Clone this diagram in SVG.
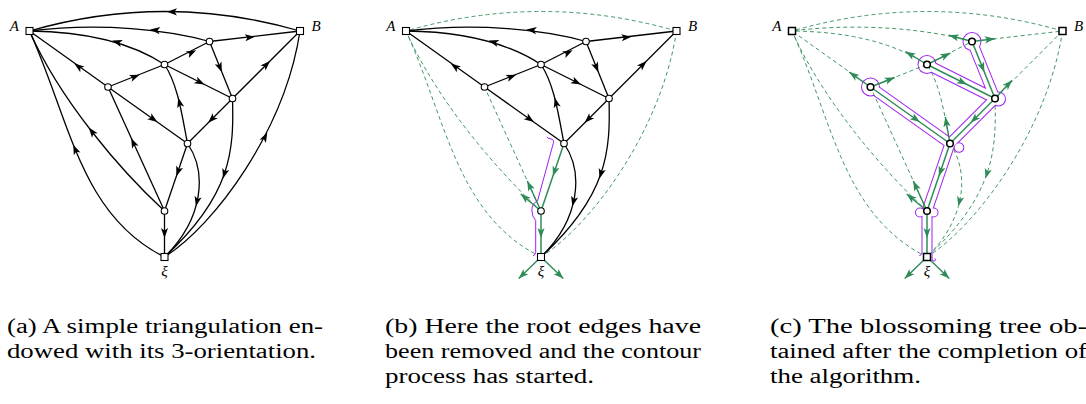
<svg xmlns="http://www.w3.org/2000/svg" xmlns:xlink="http://www.w3.org/1999/xlink" width="1086" height="404" viewBox="0 0 1086 404">
<style>
.k{fill:none;stroke:#000;stroke-width:1.3}
.g{fill:none;stroke:#2e8b57;stroke-width:1.5}
.d{fill:none;stroke:#2e8b57;stroke-width:0.9;stroke-dasharray:4 3}
.st{fill:none;stroke:#2e8b57;stroke-width:1.4;marker-end:url(#sm)}
.ak{fill:#000}
.ag{fill:#2e8b57}
.nd{fill:#fff;stroke:#000;stroke-width:1.1}
.nd2{fill:#fff;stroke:#000;stroke-width:1.5}
.pu{fill:none;stroke:#a020f0;stroke-width:1}
</style>
<defs>
<marker id="sm" markerUnits="userSpaceOnUse" viewBox="-6 -5 12 10" markerWidth="12" markerHeight="10" refX="5" refY="0" orient="auto"><path d="M5,0 L-5,-3.6 L-2.6,0 L-5,3.6 Z" fill="#2e8b57"/></marker>
<path id="ah" d="M5,0 L-5,-3.6 L-2.6,0 L-5,3.6 Z"/>
<path id="e1" d="M300,31 Q165,-8 29.5,31"/>
<path id="e2" d="M209.5,41.5 C170,30 100,22 29.5,31"/>
<path id="e3" d="M164.5,64.5 Q115,32 29.5,31"/>
<path id="e4" d="M209.5,41.5 L300,31"/>
<path id="e5" d="M164.5,64.5 L209.5,41.5"/>
<path id="e6" d="M108,87 L29.5,31"/>
<path id="e7" d="M108,87 L164.5,64.5"/>
<path id="e8" d="M164.5,64.5 L232.5,98.5"/>
<path id="e9" d="M209.5,41.5 L232.5,98.5"/>
<path id="e10" d="M232.5,98.5 L300,31"/>
<path id="e11" d="M108,87 L187.5,143.5"/>
<path id="e12" d="M232.5,98.5 L187.5,143.5"/>
<path id="e13" d="M187.5,143.5 C182,115 178,85 164.5,64.5"/>
<path id="e14" d="M187.5,143.5 L164.5,211"/>
<path id="e15" d="M187.5,143.5 C207,172 204,218 164.5,257"/>
<path id="e16" d="M232.5,98.5 C234,150 232,195 164.5,257"/>
<path id="e17" d="M164.5,211 L164.5,257"/>
<path id="e18" d="M164.5,211 L108,87"/>
<path id="e19" d="M164.5,211 C120,170 60,100 29.5,31"/>
<path id="e20" d="M164.5,257 C80,215 70,120 29.5,31"/>
<path id="e21" d="M164.5,257 C215,225 285,130 300,31"/>
<use id="r1" xlink:href="#ah" transform="translate(172,11.8) rotate(181)"/>
<use id="r2" xlink:href="#ah" transform="translate(155,30) rotate(187)"/>
<use id="r3" xlink:href="#ah" transform="translate(117,42) rotate(197)"/>
<use id="r4" xlink:href="#ah" transform="translate(250,37.2) rotate(-6.6)"/>
<use id="r5" xlink:href="#ah" transform="translate(191.7,52.5) rotate(-27)"/>
<use id="r6" xlink:href="#ah" transform="translate(78.3,66.5) rotate(215.5)"/>
<use id="r7" xlink:href="#ah" transform="translate(135,76.5) rotate(-21.7)"/>
<use id="r8" xlink:href="#ah" transform="translate(200,82.2) rotate(26.6)"/>
<use id="r9" xlink:href="#ah" transform="translate(220,67.5) rotate(68)"/>
<use id="r10" xlink:href="#ah" transform="translate(266.5,64.5) rotate(-45)"/>
<use id="r11" xlink:href="#ah" transform="translate(153.3,119.2) rotate(35.4)"/>
<use id="r12" xlink:href="#ah" transform="translate(211.7,119.3) rotate(135)"/>
<use id="r13" xlink:href="#ah" transform="translate(179.5,102.5) rotate(-104)"/>
<use id="r14" xlink:href="#ah" transform="translate(178,171.5) rotate(108.8)"/>
<use id="r15" xlink:href="#ah" transform="translate(197,201.5) rotate(103)"/>
<use id="r16" xlink:href="#ah" transform="translate(224.4,173.8) rotate(106)"/>
<use id="r17" xlink:href="#ah" transform="translate(164.5,233) rotate(90)"/>
<use id="r18" xlink:href="#ah" transform="translate(133.3,142.7) rotate(245.5)"/>
<use id="r19" xlink:href="#ah" transform="translate(91.8,131.5) rotate(232)"/>
<use id="r20" xlink:href="#ah" transform="translate(75.2,149.3) rotate(247)"/>
<use id="r21" xlink:href="#ah" transform="translate(265,137) rotate(-63)"/>
</defs>
<rect width="1086" height="404" fill="#fff"/>

<!-- Panel (a) -->
<g id="panel-a">
<g id="a-connectors">
<use xlink:href="#e1" class="k"/><use xlink:href="#e2" class="k"/><use xlink:href="#e3" class="k"/>
<use xlink:href="#e4" class="k"/><use xlink:href="#e5" class="k"/><use xlink:href="#e6" class="k"/>
<use xlink:href="#e7" class="k"/><use xlink:href="#e8" class="k"/><use xlink:href="#e9" class="k"/>
<use xlink:href="#e10" class="k"/><use xlink:href="#e11" class="k"/><use xlink:href="#e12" class="k"/>
<use xlink:href="#e13" class="k"/><use xlink:href="#e14" class="k"/><use xlink:href="#e15" class="k"/>
<use xlink:href="#e16" class="k"/><use xlink:href="#e17" class="k"/><use xlink:href="#e18" class="k"/>
<use xlink:href="#e19" class="k"/><use xlink:href="#e20" class="k"/><use xlink:href="#e21" class="k"/>
<use xlink:href="#r1" class="ak"/><use xlink:href="#r2" class="ak"/><use xlink:href="#r3" class="ak"/>
<use xlink:href="#r4" class="ak"/><use xlink:href="#r5" class="ak"/><use xlink:href="#r6" class="ak"/>
<use xlink:href="#r7" class="ak"/><use xlink:href="#r8" class="ak"/><use xlink:href="#r9" class="ak"/>
<use xlink:href="#r10" class="ak"/><use xlink:href="#r11" class="ak"/><use xlink:href="#r12" class="ak"/>
<use xlink:href="#r13" class="ak"/><use xlink:href="#r14" class="ak"/><use xlink:href="#r15" class="ak"/>
<use xlink:href="#r16" class="ak"/><use xlink:href="#r17" class="ak"/><use xlink:href="#r18" class="ak"/>
<use xlink:href="#r19" class="ak"/><use xlink:href="#r20" class="ak"/><use xlink:href="#r21" class="ak"/>
</g>
<g id="a-A"><rect class="nd" x="26" y="27.5" width="7" height="7"/><text font-family="Liberation Serif, serif" font-style="italic" font-size="15" x="19" y="31" text-anchor="end">A</text></g>
<g id="a-B"><rect class="nd" x="296.5" y="27.5" width="7" height="7"/><text font-family="Liberation Serif, serif" font-style="italic" font-size="15" x="311.5" y="31">B</text></g>
<g id="a-xi"><rect class="nd" x="161" y="253.5" width="7" height="7"/><text font-family="Liberation Serif, serif" font-style="italic" font-size="15" x="164.5" y="276" text-anchor="middle">ξ</text></g>
<g id="a-v1"><circle class="nd" cx="209.5" cy="41.5" r="3.3"/></g>
<g id="a-v2"><circle class="nd" cx="164.5" cy="64.5" r="3.3"/></g>
<g id="a-v3"><circle class="nd" cx="108" cy="87" r="3.3"/></g>
<g id="a-v4"><circle class="nd" cx="232.5" cy="98.5" r="3.3"/></g>
<g id="a-v5"><circle class="nd" cx="187.5" cy="143.5" r="3.3"/></g>
<g id="a-v6"><circle class="nd" cx="164.5" cy="211" r="3.3"/></g>
</g>

<!-- Panel (b) -->
<g id="panel-b" transform="translate(376.5,0)">
<g id="b-connectors">
<use xlink:href="#e1" class="d"/><use xlink:href="#e18" class="d"/><use xlink:href="#e19" class="d"/>
<use xlink:href="#e20" class="d"/><use xlink:href="#e21" class="d"/>
<use xlink:href="#e2" class="k"/><use xlink:href="#e3" class="k"/><use xlink:href="#e4" class="k"/>
<use xlink:href="#e5" class="k"/><use xlink:href="#e6" class="k"/><use xlink:href="#e7" class="k"/>
<use xlink:href="#e8" class="k"/><use xlink:href="#e9" class="k"/><use xlink:href="#e10" class="k"/>
<use xlink:href="#e11" class="k"/><use xlink:href="#e12" class="k"/><use xlink:href="#e13" class="k"/>
<use xlink:href="#e15" class="k"/><use xlink:href="#e16" class="k"/>
<use xlink:href="#e14" class="g"/><use xlink:href="#e17" class="g"/>
<path class="pu" d="M171.5,138.2 L175.5,139.2 Q177.5,140 177,142.5 L161,201 Q155.5,203.5 155.3,210 Q155.5,217 159.2,220.5 L159.2,252.5 Q159,255 156.5,255.8"/>
<path class="pu" d="M171.5,138.2 L170.5,136.8"/>
<use xlink:href="#r2" class="ak"/><use xlink:href="#r3" class="ak"/><use xlink:href="#r4" class="ak"/>
<use xlink:href="#r5" class="ak"/><use xlink:href="#r6" class="ak"/><use xlink:href="#r7" class="ak"/>
<use xlink:href="#r8" class="ak"/><use xlink:href="#r9" class="ak"/><use xlink:href="#r10" class="ak"/>
<use xlink:href="#r11" class="ak"/><use xlink:href="#r12" class="ak"/><use xlink:href="#r13" class="ak"/>
<use xlink:href="#r15" class="ak"/><use xlink:href="#r16" class="ak"/>
<use xlink:href="#r14" class="ag"/><use xlink:href="#r17" class="ag"/>
<path class="st" d="M164.5,211 L150.8,181"/>
<path class="st" d="M164.5,211 L144.2,194"/>
<path class="st" d="M164.5,257 L142.2,278.5"/>
<path class="st" d="M164.5,257 L186.8,278.5"/>
</g>
<g id="b-A"><rect class="nd" x="26" y="27.5" width="7" height="7"/><text font-family="Liberation Serif, serif" font-style="italic" font-size="15" x="19" y="31" text-anchor="end">A</text></g>
<g id="b-B"><rect class="nd" x="296.5" y="27.5" width="7" height="7"/><text font-family="Liberation Serif, serif" font-style="italic" font-size="15" x="311.5" y="31">B</text></g>
<g id="b-xi"><rect class="nd" x="161" y="253.5" width="7" height="7"/><text font-family="Liberation Serif, serif" font-style="italic" font-size="15" x="164.5" y="276" text-anchor="middle">ξ</text></g>
<g id="b-v1"><circle class="nd" cx="209.5" cy="41.5" r="3.3"/></g>
<g id="b-v2"><circle class="nd" cx="164.5" cy="64.5" r="3.3"/></g>
<g id="b-v3"><circle class="nd" cx="108" cy="87" r="3.3"/></g>
<g id="b-v4"><circle class="nd" cx="232.5" cy="98.5" r="3.3"/></g>
<g id="b-v5"><circle class="nd" cx="187.5" cy="143.5" r="3.3"/></g>
<g id="b-v6"><circle class="nd" cx="164.5" cy="211" r="3.3"/></g>
</g>

<!-- Panel (c) -->
<g id="panel-c" transform="translate(762.5,0)">
<g id="c-contour">
<g stroke="#a020f0" stroke-width="11" stroke-linejoin="round" stroke-linecap="round" fill="none">
<path d="M108,87 L187.5,143.5 L164.5,211"/>
<path d="M164.5,64.5 L232.5,98.5 L209.5,41.5"/>
<path d="M232.5,98.5 L187.5,143.5"/>
<path d="M164.5,211 L164.5,253" stroke-linecap="butt"/>
</g>
<g fill="#a020f0">
<circle cx="209.5" cy="41.5" r="9.5"/><circle cx="164.5" cy="64.5" r="9.5"/><circle cx="108" cy="87" r="9.5"/>
<circle cx="236" cy="99" r="7.5"/><circle cx="196.5" cy="147.5" r="5.3"/>
<circle cx="157.5" cy="212.5" r="5"/><circle cx="171" cy="212.5" r="5"/>
</g>
<g stroke="#fff" stroke-width="9" stroke-linejoin="round" stroke-linecap="round" fill="none">
<path d="M108,87 L187.5,143.5 L164.5,211"/>
<path d="M164.5,64.5 L232.5,98.5 L209.5,41.5"/>
<path d="M232.5,98.5 L187.5,143.5"/>
<path d="M164.5,211 L164.5,253.6" stroke-linecap="butt"/>
</g>
<g fill="#fff">
<circle cx="209.5" cy="41.5" r="8.5"/><circle cx="164.5" cy="64.5" r="8.5"/><circle cx="108" cy="87" r="8.5"/>
<circle cx="236" cy="99" r="6.5"/><circle cx="196.5" cy="147.5" r="4.3"/>
<circle cx="157.5" cy="212.5" r="4"/><circle cx="171" cy="212.5" r="4"/>
</g>
<path class="pu" d="M159.5,253 Q159.3,255.2 156.8,255.6"/>
<path class="pu" d="M169.5,253 L169.5,259 Q169.8,262 172.3,261 Q173.6,259.8 172.4,258.4"/>
</g>
<g id="c-connectors">
<use xlink:href="#e1" class="d"/><use xlink:href="#e2" class="d"/><use xlink:href="#e3" class="d"/>
<use xlink:href="#e4" class="d"/><use xlink:href="#e5" class="d"/><use xlink:href="#e6" class="d"/>
<use xlink:href="#e7" class="d"/><use xlink:href="#e10" class="d"/><use xlink:href="#e13" class="d"/>
<use xlink:href="#e15" class="d"/><use xlink:href="#e16" class="d"/><use xlink:href="#e18" class="d"/>
<use xlink:href="#e19" class="d"/><use xlink:href="#e20" class="d"/><use xlink:href="#e21" class="d"/>
<use xlink:href="#e8" class="g"/><use xlink:href="#e9" class="g"/><use xlink:href="#e11" class="g"/>
<use xlink:href="#e12" class="g"/><use xlink:href="#e14" class="g"/><use xlink:href="#e17" class="g"/>
<use xlink:href="#r8" class="ag"/><use xlink:href="#r9" class="ag"/><use xlink:href="#r11" class="ag"/>
<use xlink:href="#r12" class="ag"/><use xlink:href="#r14" class="ag"/><use xlink:href="#r17" class="ag"/>
<use xlink:href="#r15" class="ag"/><use xlink:href="#r16" class="ag"/>
<path class="st" d="M209.5,41.5 L186.3,35.3"/>
<path class="st" d="M209.5,41.5 L232.3,38.7"/>
<path class="st" d="M164.5,64.5 L143.1,51.6"/>
<path class="st" d="M164.5,64.5 L187.9,53.1"/>
<path class="st" d="M108,87 L86.7,72.1"/>
<path class="st" d="M108,87 L132.2,77.5"/>
<path class="st" d="M232.5,98.5 L249.5,80.2"/>
<path class="st" d="M187.5,143.5 L182.8,116.9"/>
<path class="st" d="M164.5,211 L150.8,181"/>
<path class="st" d="M164.5,211 L144.2,194"/>
<path class="st" d="M164.5,257 L142.2,278.5"/>
<path class="st" d="M164.5,257 L186.8,278.5"/>
</g>
<g id="c-A"><rect class="nd2" x="26" y="27.5" width="7" height="7"/><text font-family="Liberation Serif, serif" font-style="italic" font-size="15" x="19" y="31" text-anchor="end">A</text></g>
<g id="c-B"><rect class="nd2" x="296.5" y="27.5" width="7" height="7"/><text font-family="Liberation Serif, serif" font-style="italic" font-size="15" x="311.5" y="31">B</text></g>
<g id="c-xi"><rect class="nd2" x="161" y="253.5" width="7" height="7"/><text font-family="Liberation Serif, serif" font-style="italic" font-size="15" x="164.5" y="276" text-anchor="middle">ξ</text></g>
<g id="c-v1"><circle class="nd2" cx="209.5" cy="41.5" r="3.3"/></g>
<g id="c-v2"><circle class="nd2" cx="164.5" cy="64.5" r="3.3"/></g>
<g id="c-v3"><circle class="nd2" cx="108" cy="87" r="3.3"/></g>
<g id="c-v4"><circle class="nd2" cx="232.5" cy="98.5" r="3.3"/></g>
<g id="c-v5"><circle class="nd2" cx="187.5" cy="143.5" r="3.3"/></g>
<g id="c-v6"><circle class="nd2" cx="164.5" cy="211" r="3.3"/></g>
</g>

<!-- Captions -->
<g id="captions" font-family="Liberation Serif, serif" font-size="20.5">
<text x="7" y="333" textLength="316" lengthAdjust="spacingAndGlyphs">(a) A simple triangulation en-</text>
<text x="7" y="358" textLength="309" lengthAdjust="spacingAndGlyphs">dowed with its 3-orientation.</text>
<text x="385" y="333" textLength="316" lengthAdjust="spacingAndGlyphs">(b) Here the root edges have</text>
<text x="385" y="358" textLength="316" lengthAdjust="spacingAndGlyphs">been removed and the contour</text>
<text x="385" y="383" textLength="209" lengthAdjust="spacingAndGlyphs">process has started.</text>
<text x="770" y="333" textLength="317" lengthAdjust="spacingAndGlyphs">(c) The blossoming tree ob-</text>
<text x="770" y="358" textLength="317" lengthAdjust="spacingAndGlyphs">tained after the completion of</text>
<text x="770" y="383" textLength="151" lengthAdjust="spacingAndGlyphs">the algorithm.</text>
</g>
</svg>
